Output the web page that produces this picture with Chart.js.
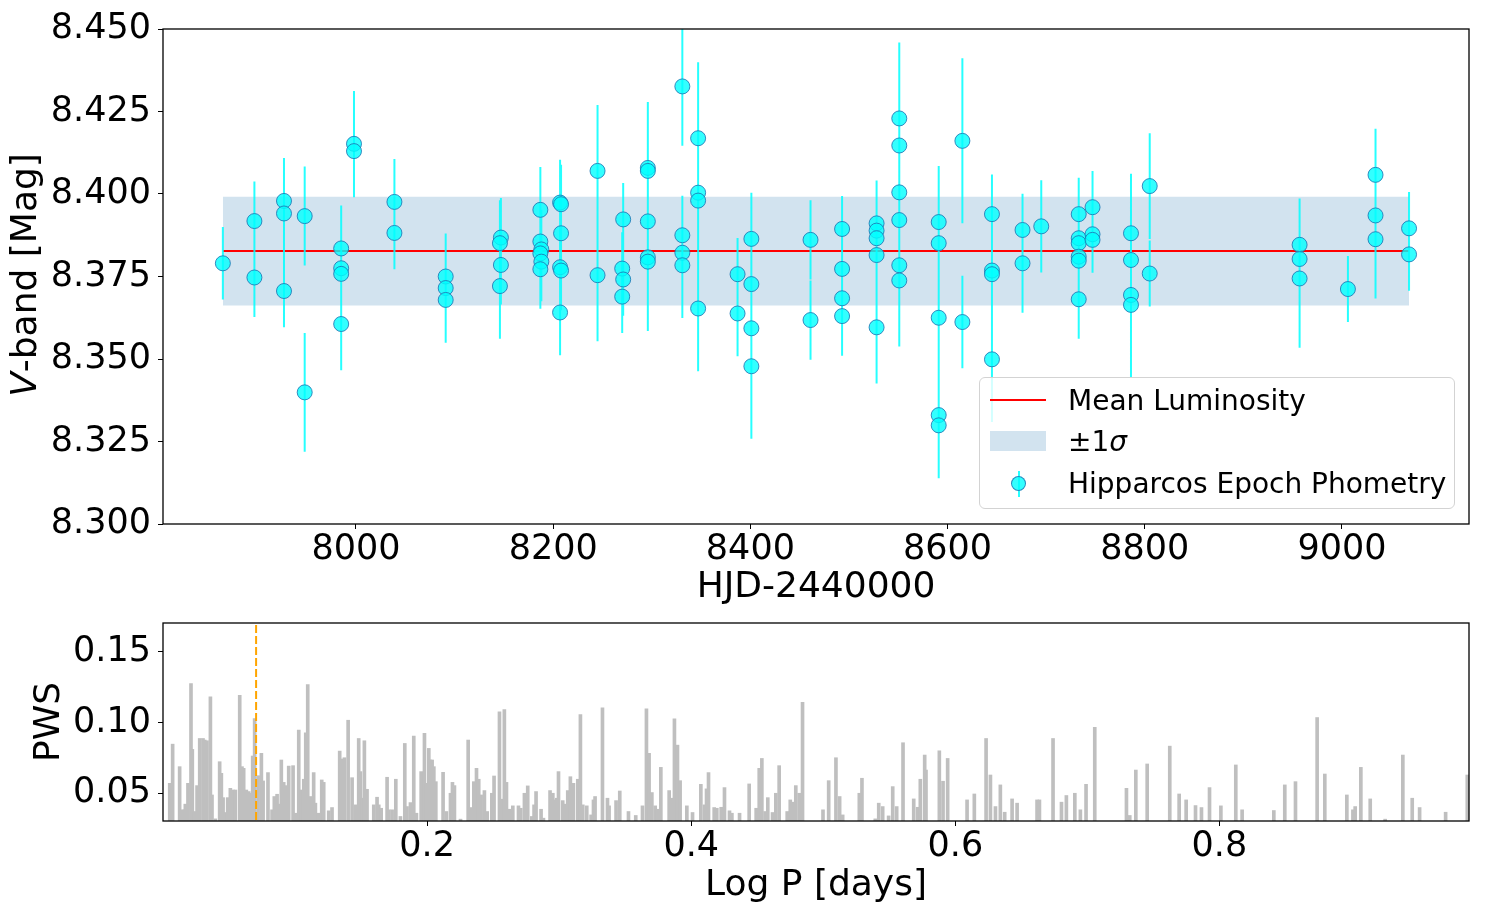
<!DOCTYPE html>
<html>
<head>
<meta charset="utf-8">
<script src="https://cdn.jsdelivr.net/npm/chart.js@4.4.1/dist/chart.umd.min.js"></script>
<style>
  html, body { margin:0; padding:0; background:#fff; }
  #wrap { position:relative; width:1494px; height:913px; overflow:hidden; font-family:'DejaVu Sans', sans-serif; color:#000; }
  canvas { position:absolute; left:0; }
  #cTop { top:0; }
  #cBot { top:610px; }
  .ylab { position:absolute; font-size:36px; white-space:nowrap; text-align:center; transform:rotate(-90deg); line-height:44px; height:44px; }
  #legend { position:absolute; left:979px; top:377px; width:474px; height:130px; border:1px solid #d3d3d3; border-radius:6px; background:rgba(255,255,255,0.8); }
  .lg { position:absolute; }
  .lt { position:absolute; left:88px; font-size:28px; line-height:34px; height:34px; white-space:nowrap; }
</style>
</head>
<body>
<div id="wrap">
  <canvas id="cTop" width="1494" height="610"></canvas>
  <canvas id="cBot" width="1494" height="303"></canvas>
  <div class="ylab" style="left:-126px; top:253px; width:300px;"><i>V</i>-band [Mag]</div>
  <div id="legend">
    <div class="lg" style="left:10px; top:21px; width:56px; height:2px; background:#ff0000;"></div>
    <div class="lt" style="top:6px;">Mean Luminosity</div>
    <div class="lg" style="left:10px; top:53px; width:56px; height:20px; background:rgb(210,227,239);"></div>
    <div class="lt" style="top:47px;">±1<i>σ</i></div>
    <div class="lg" style="left:38px; top:93px; width:2px; height:26px; background:rgba(0,255,255,0.85);"></div>
    <div class="lg" style="left:30.5px; top:97.5px; width:15px; height:15px; border-radius:50%; box-sizing:border-box; border:1px solid rgba(31,119,180,0.85); background:rgba(0,255,255,0.8);"></div>
    <div class="lt" style="top:89px;">Hipparcos Epoch Phometry</div>
  </div>
</div>
<script>
// ---------------- DATA ----------------
// Hipparcos epoch photometry (HJD-2440000, V mag, error)
const hjd = [7865,7897,7897,7927,7927,7927,7948,7948,7985,7985,7985,7985,7998,7998,8039,8039,8091,8091,8091,
  8147,8146,8147,8146,8187,8187,8188,8187,8188,8187,8207,8208,8208,8207,8208,8207,8245,8245,8271,8270,8271,8270,
  8296,8296,8296,8296,8296,8331,8331,8331,8331,8347,8347,8347,8347,8387,8387,8401,8401,8401,8401,8461,8461,
  8493,8493,8493,8493,8528,8528,8528,8528,8528,8551,8551,8551,8551,8551,8551,8591,8591,8591,8591,8591,8615,8615,
  8645,8645,8645,8645,8676,8676,8695,8733,8733,8733,8733,8733,8733,8747,8747,8747,8786,8786,8786,8786,8805,8805,
  8957,8957,8957,9006,9034,9034,9034,9068,9068];
const vmag = [8.3790,8.3918,8.3747,8.3979,8.3941,8.3706,8.3933,8.3399,8.3835,8.3775,8.3758,8.3606,8.4152,8.4130,8.3976,8.3882,8.3750,8.3715,8.3679,
  8.3868,8.3851,8.3785,8.3721,8.3952,8.3856,8.3832,8.3820,8.3795,8.3772,8.3974,8.3969,8.3881,8.3778,8.3768,8.3641,8.4070,8.3754,8.3923,8.3774,8.3741,8.3689,
  8.4079,8.4070,8.3917,8.3808,8.3795,8.4326,8.3875,8.3822,8.3784,8.4169,8.4004,8.3980,8.3653,8.3757,8.3638,8.3864,8.3727,8.3593,8.3478,8.3861,8.3618,
  8.3894,8.3773,8.3684,8.3630,8.3911,8.3889,8.3866,8.3815,8.3596,8.4229,8.4147,8.4005,8.3921,8.3784,8.3738,8.3915,8.3851,8.3625,8.3330,8.3299,8.4161,8.3612,
  8.3939,8.3768,8.3757,8.3499,8.3891,8.3790,8.3902,8.3939,8.3866,8.3851,8.3810,8.3798,8.3681,8.3960,8.3878,8.3861,8.3881,8.3800,8.3694,8.3664,8.4024,8.3759,
  8.3846,8.3803,8.3744,8.3712,8.4058,8.3935,8.3863,8.3896,8.3817];
const verr = [0.011,0.012,0.012,0.013,0.013,0.011,0.015,0.018,0.013,0.012,0.012,0.014,0.016,0.014,0.013,0.011,0.013,0.012,0.013,
  0.012,0.013,0.012,0.016,0.013,0.012,0.012,0.012,0.012,0.012,0.013,0.012,0.012,0.012,0.012,0.013,0.020,0.020,0.011,0.011,0.011,0.011,
  0.020,0.018,0.016,0.016,0.021,0.018,0.012,0.012,0.016,0.023,0.016,0.016,0.019,0.011,0.013,0.014,0.014,0.016,0.022,0.012,0.012,
  0.010,0.012,0.012,0.012,0.013,0.012,0.012,0.012,0.017,0.023,0.020,0.020,0.020,0.020,0.020,0.017,0.017,0.017,0.019,0.016,0.025,0.014,
  0.012,0.014,0.014,0.019,0.011,0.015,0.014,0.011,0.012,0.012,0.012,0.012,0.012,0.011,0.010,0.010,0.018,0.018,0.020,0.022,0.016,0.010,
  0.014,0.014,0.021,0.010,0.014,0.014,0.018,0.011,0.011];
const meanMag = 8.3827;
const sigmaMag = 0.0165;

// Periodogram (log P [days], power)
const logP = [0.0051,0.0073,0.0126,0.0144,0.0162,0.0169,0.0189,0.0212,0.0222,0.0240,0.0258,0.0278,0.0303,0.0316,0.0333,0.0359,0.0371,0.0396,0.0429,0.0442,
  0.0455,0.0472,0.0490,0.0510,0.0530,0.0548,0.0581,0.0598,0.0611,0.0631,0.0649,0.0667,0.0679,0.0694,0.0720,0.0745,0.0758,0.0795,0.0826,0.0843,
  0.0864,0.0881,0.0896,0.0914,0.0932,0.0952,0.0985,0.1003,0.1028,0.1045,0.1066,0.1081,0.1096,0.1116,0.1141,0.1154,0.1179,0.1202,0.1217,0.1255,
  0.1280,0.1338,0.1356,0.1374,0.1402,0.1432,0.1457,0.1482,0.1495,0.1508,0.1525,0.1545,0.1596,0.1621,0.1634,0.1652,0.1697,0.1710,0.1735,0.1763,
  0.1798,0.1831,0.1848,0.1874,0.1899,0.1919,0.1955,0.1980,0.1995,0.2013,0.2025,0.2038,0.2051,0.2066,0.2121,0.2146,0.2177,0.2192,0.2207,0.2253,
  0.2311,0.2328,0.2354,0.2374,0.2391,0.2409,0.2434,0.2455,
  0.2490,0.2507,0.2548,0.2565,0.2585,0.2601,0.2623,0.2649,0.2692,0.2709,0.2737,0.2762,0.2793,0.2810,0.2825,0.2863,0.2881,0.2931,0.2952,0.2969,
  0.2982,0.2995,0.3027,0.3045,0.3065,0.3085,0.3108,0.3141,0.3161,0.3179,0.3209,0.3242,0.3260,0.3272,0.3328,0.3366,0.3378,0.3431,0.3459,0.3525,
  0.3580,0.3631,0.3661,0.3681,0.3702,0.3727,0.3745,0.3770,0.3833,0.3853,0.3873,0.3896,0.3916,0.3967,0.4010,0.4073,0.4101,0.4116,0.4131,0.4174,
  0.4194,0.4227,0.4252,0.4290,0.4308,0.4366,0.4439,0.4492,0.4515,0.4535,0.4560,0.4580,0.4616,0.4641,0.4666,0.4727,0.4750,0.4770,0.4792,0.4818,
  0.4843,
  0.4998,0.5041,0.5096,0.5124,0.5147,0.5273,0.5293,0.5394,0.5420,0.5450,0.5495,0.5526,0.5556,0.5604,0.5685,0.5715,0.5735,0.5768,0.5778,0.5879,
  0.5907,0.5942,0.6089,0.6144,0.6233,0.6266,0.6304,0.6341,0.6374,0.6430,0.6468,0.6619,0.6637,0.6740,0.6804,0.6841,0.6905,0.6947,0.6990,0.7056,
  0.7296,0.7321,0.7367,
  0.7453,0.7624,0.7695,0.7748,0.7819,0.7864,0.7925,0.8011,0.8124,0.8172,0.8412,0.8495,0.8576,0.8740,0.8798,0.8965,0.9011,0.9028,0.9071,0.9142,
  0.9255,0.9389,0.9460,0.9516,0.9713,0.9877];
const power = [0.0570,0.0847,0.0688,0.0383,0.0383,0.0423,0.0570,0.1275,0.0810,0.0371,0.0554,0.0887,0.0887,0.0876,0.0871,0.1181,0.0488,0.0319,0.0723,0.0641,
  0.0469,0.0364,0.0469,0.0535,0.0523,0.0523,0.1192,0.0688,0.0676,0.0523,0.0512,0.0500,0.0763,0.1028,0.0624,0.0782,0.0587,0.0646,0.0383,0.0477,
  0.0493,0.0423,0.0735,0.0577,0.0554,0.0692,0.0695,0.0359,0.0946,0.0523,0.0599,0.0927,0.1268,0.0477,0.0646,0.0430,0.0359,0.0594,0.0577,0.0376,
  0.0399,0.0798,0.0742,0.0751,0.1016,0.0610,0.0418,0.0887,0.0653,0.0465,0.0871,0.0528,0.0418,0.0472,0.0418,0.0394,0.0613,0.0383,0.0383,0.0599,
  0.0336,0.0852,0.0406,0.0434,0.0904,0.0359,0.0653,0.0923,0.0570,0.0817,0.0735,0.0735,0.0688,0.0582,0.0648,0.0371,0.0500,0.0577,0.0554,0.0317,
  0.0876,0.0399,0.0582,0.0676,0.0599,0.0488,0.0519,0.0371,
  0.0500,0.0622,0.1075,0.0458,0.1092,0.0577,0.0387,0.0411,0.0411,0.0394,0.0500,0.0552,0.0336,0.0418,0.0512,0.0387,0.0324,0.0519,0.0500,0.0453,
  0.0465,0.0653,0.0448,0.0423,0.0519,0.0617,0.0570,0.0599,0.1056,0.0418,0.0411,0.0347,0.0453,0.0477,0.1103,0.0465,0.0411,0.0448,0.0516,0.0371,
  0.0343,0.0411,0.1096,0.0782,0.0505,0.0411,0.0387,0.0683,0.0519,0.0465,0.1026,0.0840,0.0589,0.0411,0.0364,0.0563,0.0418,0.0531,0.0646,0.0399,
  0.0394,0.0401,0.0540,0.0376,0.0359,0.0359,0.0566,0.0394,0.0676,0.0746,0.0371,0.0469,0.0364,0.0500,0.0695,0.0371,0.0453,0.0437,0.0554,0.0500,
  0.1143,
  0.0383,0.0589,0.0751,0.0477,0.0347,0.0500,0.0606,0.0319,0.0430,0.0406,0.0340,0.0547,0.0406,0.0857,0.0460,0.0401,0.0599,0.0770,0.0664,0.0800,
  0.0585,0.0746,0.0453,0.0495,0.0887,0.0629,0.0406,0.0559,0.0366,0.0460,0.0430,0.0453,0.0453,0.0887,0.0437,0.0484,0.0500,0.0383,0.0563,0.0965,
  0.0535,0.0343,0.0664,
  0.0707,0.0833,0.0495,0.0453,0.0413,0.0399,0.0540,0.0411,0.0700,0.0383,0.0378,0.0559,0.0582,0.1035,0.0636,0.0488,0.0383,0.0406,0.0683,0.0460,
  0.0317,0.0770,0.0465,0.0399,0.0366,0.0629];
const bestLogP = 0.0705;

// Tick labels
const topXTicks = [8000, 8200, 8400, 8600, 8800, 9000];
const topYTicks = [8.300, 8.325, 8.350, 8.375, 8.400, 8.425, 8.450];
const botXTicks = [0.2, 0.4, 0.6, 0.8];
const botYTicks = [0.05, 0.10, 0.15];

// ---------------- CHARTS ----------------
const FONT = "'DejaVu Sans', sans-serif";
const tickFont = { family: FONT, size: 35, lineHeight: 1.1 };
const titleFont = { family: FONT, size: 36, lineHeight: 1.2 };

const framePlugin = {
  id: 'frame',
  afterDraw(chart) {
    const { ctx, chartArea: a } = chart;
    ctx.save();
    ctx.strokeStyle = '#000';
    ctx.lineWidth = 1.3;
    ctx.strokeRect(a.left, a.top, a.right - a.left, a.bottom - a.top);
    ctx.restore();
  }
};

function setTicks(arr) { return (s) => { s.ticks = arr.map(v => ({ value: v })); }; }
const gridOpts = { display: true, drawOnChartArea: false, drawTicks: true, tickLength: 5, color: '#000', lineWidth: 1 };

const last = hjd.length - 1;
const points = hjd.map((x, i) => ({ x, y: vmag[i] }));
const errSegs = [];
hjd.forEach((x, i) => {
  errSegs.push({ x, y: vmag[i] - verr[i] }, { x, y: vmag[i] + verr[i] }, { x, y: null });
});

new Chart(document.getElementById('cTop'), {
  type: 'scatter',
  data: {
    datasets: [
      { type: 'line', label: 'upper', data: [{ x: hjd[0], y: meanMag + sigmaMag }, { x: hjd[last], y: meanMag + sigmaMag }],
        borderWidth: 0, borderColor: 'rgba(0,0,0,0)', pointRadius: 0, fill: '+1', backgroundColor: 'rgb(210,227,239)', order: 5 },
      { type: 'line', label: 'lower', data: [{ x: hjd[0], y: meanMag - sigmaMag }, { x: hjd[last], y: meanMag - sigmaMag }],
        borderWidth: 0, borderColor: 'rgba(0,0,0,0)', pointRadius: 0, fill: false, order: 4 },
      { type: 'line', label: 'Mean Luminosity', data: [{ x: hjd[0], y: meanMag }, { x: hjd[last], y: meanMag }],
        borderColor: '#ff0000', borderWidth: 2, pointRadius: 0, fill: false, order: 3 },
      { type: 'line', label: 'err', data: errSegs, borderColor: 'rgba(0,255,255,0.85)', borderWidth: 2,
        pointRadius: 0, fill: false, spanGaps: false, order: 2 },
      { type: 'scatter', label: 'Hipparcos Epoch Phometry', data: points, pointRadius: 7.5, pointHoverRadius: 7.5,
        backgroundColor: 'rgba(0,255,255,0.8)', borderColor: 'rgba(31,119,180,0.85)', borderWidth: 1, order: 1 }
    ]
  },
  options: {
    responsive: false, animation: false, devicePixelRatio: 1,
    layout: { padding: { top: 29, right: 25, left: 0, bottom: 0 } },
    plugins: { legend: { display: false }, tooltip: { enabled: false } },
    scales: {
      x: {
        type: 'linear', min: 7804.3, max: 9128.8,
        afterBuildTicks: setTicks(topXTicks),
        afterFit: (s) => { s.height = 86; },
        ticks: { font: tickFont, color: '#000', padding: 2, maxRotation: 0, autoSkip: false, callback: (v) => String(v) },
        grid: gridOpts, border: { display: false },
        title: { display: true, text: 'HJD-2440000', font: titleFont, color: '#000', padding: { top: 0, bottom: 1 } }
      },
      y: {
        type: 'linear', min: 8.300, max: 8.450,
        afterBuildTicks: setTicks(topYTicks),
        afterFit: (s) => { s.width = 163; },
        ticks: { font: tickFont, color: '#000', padding: 7, autoSkip: false, callback: (v) => v.toFixed(3) },
        grid: gridOpts, border: { display: false }
      }
    }
  },
  plugins: [framePlugin]
});

new Chart(document.getElementById('cBot'), {
  type: 'bar',
  data: {
    datasets: [
      { type: 'line', label: 'best', data: [{ x: bestLogP, y: 0 }, { x: bestLogP, y: 1 }], borderColor: '#ffa500',
        borderWidth: 2, borderDash: [8, 3], pointRadius: 0, fill: false, order: 0 },
      { type: 'bar', label: 'PWS', data: logP.map((x, i) => ({ x, y: power[i] })), backgroundColor: '#bfbfbf',
        borderWidth: 0, barThickness: 3, order: 1 }
    ]
  },
  options: {
    responsive: false, animation: false, devicePixelRatio: 1,
    layout: { padding: { top: 13, right: 25, left: 0, bottom: 0 } },
    plugins: { legend: { display: false }, tooltip: { enabled: false } },
    scales: {
      x: {
        type: 'linear', min: 0.0, max: 0.989, offset: false,
        afterBuildTicks: setTicks(botXTicks),
        afterFit: (s) => { s.height = 92; },
        ticks: { font: tickFont, color: '#000', padding: 2, maxRotation: 0, autoSkip: false, callback: (v) => v.toFixed(1) },
        grid: Object.assign({}, gridOpts, { offset: false }), border: { display: false },
        title: { display: true, text: 'Log P [days]', font: titleFont, color: '#000', padding: { top: 0, bottom: 6 } }
      },
      y: {
        type: 'linear', min: 0.0304, max: 0.1703,
        afterBuildTicks: setTicks(botYTicks),
        afterFit: (s) => { s.width = 163; },
        ticks: { font: Object.assign({}, tickFont, { lineHeight: 0.2 }), color: '#000', padding: 7, autoSkip: false, callback: (v) => v.toFixed(2) },
        grid: gridOpts, border: { display: false },
        title: { display: true, text: 'PWS', font: titleFont, color: '#000', padding: { top: 28, bottom: 0 } }
      }
    }
  },
  plugins: [framePlugin]
});
</script>
</body>
</html>
